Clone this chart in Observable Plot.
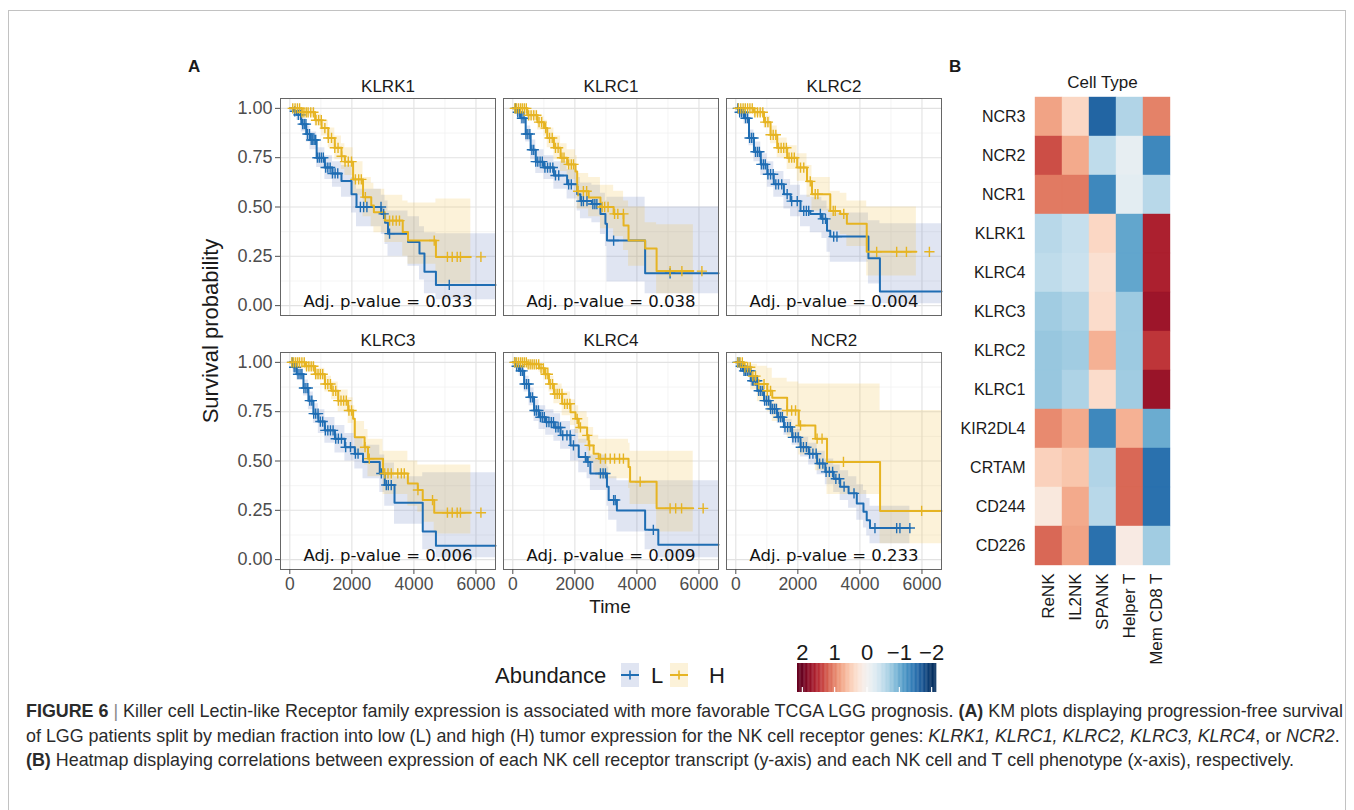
<!DOCTYPE html>
<html><head><meta charset="utf-8">
<script src="https://cdn.jsdelivr.net/npm/d3@7"></script>
<script src="https://cdn.jsdelivr.net/npm/@observablehq/plot@0.6"></script>
<style>
html,body{margin:0;padding:0;background:#fff;}
body{width:1354px;height:810px;overflow:hidden;position:relative;font-family:"Liberation Sans",Arial,sans-serif;color:#1a1a1a;}
.abs{position:absolute;}
#frame{left:8px;top:10px;width:1338px;height:830px;border:1.5px solid #c2c2c2;box-sizing:border-box;}
.plab{font-weight:bold;font-size:17px;}
.cap{position:absolute;left:26px;white-space:nowrap;font-family:"Liberation Sans Narrow","Liberation Sans",Arial,sans-serif;font-size:19px;color:#2b2b2b;transform-origin:0 0;display:inline-block;line-height:22px;}
.cap b{font-weight:bold;}
.leg{font-size:22px;line-height:26px;}
svg{display:block;}
</style></head><body>
<div id="frame" class="abs"></div>
<div class="abs plab" style="left:188px;top:57px;">A</div>
<div class="abs plab" style="left:949px;top:57px;">B</div>
<div class="abs" id="km" style="left:180px;top:60px;"></div>
<div class="abs" id="hm" style="left:940px;top:60px;"></div>
<div class="abs" id="ramp" style="left:780px;top:630px;"></div>
<div class="abs" style="left:211px;top:331px;transform:translate(-50%,-50%) rotate(-90deg);font-size:22px;white-space:nowrap;">Survival probability</div>
<div class="abs" style="left:610px;top:607px;transform:translate(-50%,-50%);font-size:19px;">Time</div>
<div class="abs leg" style="left:495px;top:663px;">Abundance</div>
<div class="abs" id="legL" style="left:621px;top:663px;"></div>
<div class="abs leg" style="left:651px;top:663px;">L</div>
<div class="abs" id="legH" style="left:670px;top:663px;"></div>
<div class="abs leg" style="left:709px;top:663px;">H</div>
<div class="cap" id="c1" style="top:700px;"><b>FIGURE 6</b> <span style="color:#888">|</span> Killer cell Lectin-like Receptor family expression is associated with more favorable TCGA LGG prognosis. <b>(A)</b> KM plots displaying progression-free survival</div>
<div class="cap" id="c2" style="top:725px;">of LGG patients split by median fraction into low (L) and high (H) tumor expression for the NK cell receptor genes: <i>KLRK1, KLRC1, KLRC2, KLRC3, KLRC4</i>, or <i>NCR2</i>.</div>
<div class="cap" id="c3" style="top:749px;"><b>(B)</b> Heatmap displaying correlations between expression of each NK cell receptor transcript (y-axis) and each NK cell and T cell phenotype (x-axis), respectively.</div>
<script>
// ---------------- Panel A data ----------------
const genes = ["KLRK1","KLRC1","KLRC2","KLRC3","KLRC4","NCR2"];
const pvalues = ["0.033","0.038","0.004","0.006","0.009","0.233"];
const groups = ["L","H"];
const groupColors = ["#1f6db3","#e6b422"];
const xTicks = [0,2000,4000,6000];
const xMinor = [1000,3000,5000];
const yTicks = [0,0.25,0.5,0.75,1];
const yMinor = [0.125,0.375,0.625,0.875];

// each point: [time, survival, lower CI, upper CI]
const KLRK1_L = [[0,1,1,1],[105,0.985,0.97,1],[225,0.967,0.94,0.99],[370,0.92,0.88,0.95],[530,0.87,0.83,0.91],[650,0.84,0.79,0.88],[865,0.75,0.70,0.80],[1130,0.70,0.64,0.76],[1375,0.67,0.60,0.73],[1665,0.632,0.55,0.71],[1990,0.565,0.47,0.65],[2150,0.50,0.40,0.59],[2950,0.465,0.36,0.56],[3070,0.42,0.31,0.53],[3165,0.365,0.25,0.48],[3810,0.323,0.20,0.45],[4180,0.264,0.13,0.40],[4340,0.172,0.06,0.37],[4710,0.105,0.03,0.365],[6630,0.105,0.03,0.365]];
const KLRK1_H = [[0,1,1,1],[385,0.98,0.96,1],[815,0.94,0.91,0.97],[1025,0.90,0.86,0.94],[1240,0.85,0.80,0.90],[1450,0.80,0.74,0.86],[1665,0.757,0.69,0.82],[1775,0.73,0.66,0.80],[2040,0.64,0.56,0.73],[2360,0.55,0.45,0.65],[2625,0.507,0.40,0.62],[2710,0.473,0.37,0.59],[3060,0.431,0.32,0.56],[3640,0.373,0.25,0.53],[3810,0.33,0.21,0.52],[4710,0.247,0.11,0.54],[5835,0.247,0.11,0.54]];
const KLRK1_L_cens = [160,275,350,415,465,520,570,635,690,740,785,835,890,950,1015,1080,1155,1225,1300,1375,1460,1545,2275,2380,2485,2940,3025,3215,5140];
const KLRK1_H_cens = [95,170,245,315,390,455,530,590,675,760,845,930,1015,1130,1240,1345,1450,1555,1670,1780,1885,1990,2115,2220,2305,2435,3215,3320,3430,3535,4655,5080,5235,5395,5500,6160];

const KLRC1_L = [[0,1,1,1],[125,0.98,0.96,1],[255,0.95,0.92,0.98],[415,0.87,0.83,0.91],[575,0.79,0.74,0.84],[740,0.73,0.67,0.79],[1005,0.70,0.64,0.76],[1325,0.66,0.59,0.73],[1750,0.615,0.54,0.69],[2075,0.565,0.48,0.65],[2180,0.53,0.44,0.62],[2550,0.515,0.42,0.61],[2825,0.465,0.36,0.57],[2985,0.415,0.30,0.53],[3035,0.33,0.12,0.55],[4265,0.164,0.06,0.50],[6630,0.164,0.06,0.50]];
const KLRC1_H = [[0,1,1,1],[470,0.965,0.94,0.99],[795,0.93,0.89,0.96],[1005,0.90,0.86,0.94],[1110,0.85,0.80,0.90],[1325,0.80,0.74,0.86],[1540,0.75,0.68,0.82],[1750,0.716,0.64,0.79],[2020,0.68,0.60,0.76],[2075,0.58,0.49,0.67],[2445,0.548,0.45,0.65],[2825,0.50,0.39,0.61],[3250,0.465,0.35,0.58],[3570,0.406,0.28,0.53],[3730,0.33,0.20,0.50],[4265,0.29,0.16,0.42],[4635,0.175,0.06,0.41],[5820,0.175,0.06,0.41]];
const KLRC1_L_cens = [85,160,220,295,360,425,485,550,615,675,740,805,880,950,1035,1120,1205,1290,1375,1480,1800,1885,2210,2275,2390,2580,2645,2710,3250,5070];
const KLRC1_H_cens = [65,115,180,245,305,370,435,510,590,675,760,845,930,1060,1185,1270,1375,1460,1585,1650,1800,1885,1955,2105,2275,2380,2880,2960,3070,3280,3385,3565,5070,5450,6095];

const KLRC2_L = [[0,1,1,1],[105,0.98,0.96,1],[265,0.95,0.92,0.98],[425,0.85,0.81,0.89],[585,0.78,0.73,0.83],[805,0.716,0.66,0.77],[1015,0.666,0.60,0.73],[1225,0.615,0.55,0.68],[1550,0.565,0.49,0.64],[1765,0.53,0.45,0.61],[2085,0.48,0.40,0.56],[2400,0.465,0.37,0.55],[2775,0.44,0.34,0.53],[2940,0.38,0.27,0.49],[3045,0.35,0.22,0.47],[4275,0.24,0.11,0.43],[4645,0.072,0.01,0.415],[6630,0.072,0.01,0.415]];
const KLRC2_H = [[0,1,1,1],[585,0.98,0.96,1],[910,0.93,0.90,0.96],[1120,0.866,0.82,0.91],[1335,0.80,0.75,0.85],[1655,0.75,0.69,0.81],[1980,0.70,0.63,0.77],[2295,0.63,0.55,0.71],[2455,0.565,0.48,0.65],[3045,0.48,0.38,0.58],[3365,0.465,0.36,0.57],[3580,0.415,0.30,0.53],[4220,0.273,0.15,0.50],[5820,0.273,0.15,0.50]];
const KLRC2_L_cens = [65,125,190,255,315,380,445,510,570,635,700,760,825,890,950,1035,1120,1205,1290,1375,1480,1655,1800,1980,2190,2275,2350,2725,2805,2890,3155,3260];
const KLRC2_H_cens = [85,160,235,305,380,455,530,615,700,785,870,950,1035,1120,1205,1290,1375,1460,1545,1630,1715,1800,1885,2085,2190,2400,2560,2645,3140,3205,3480,4540,5185,5500,6240];

const KLRC3_L = [[0,1,1,1],[105,0.975,0.95,1],[225,0.94,0.91,0.97],[440,0.87,0.83,0.91],[600,0.806,0.76,0.85],[760,0.74,0.69,0.79],[920,0.70,0.64,0.76],[1130,0.655,0.59,0.72],[1455,0.613,0.54,0.68],[1775,0.57,0.50,0.64],[2095,0.537,0.46,0.62],[2360,0.495,0.41,0.58],[2900,0.437,0.34,0.53],[3060,0.378,0.27,0.49],[3375,0.289,0.18,0.42],[4285,0.143,0.05,0.44],[4710,0.07,0.01,0.44],[6630,0.07,0.01,0.44]];
const KLRC3_H = [[0,1,1,1],[490,0.98,0.96,1],[815,0.94,0.91,0.97],[1130,0.89,0.85,0.93],[1345,0.856,0.81,0.90],[1560,0.806,0.75,0.86],[1880,0.756,0.69,0.82],[2040,0.714,0.64,0.78],[2095,0.62,0.54,0.70],[2410,0.57,0.48,0.66],[2520,0.512,0.42,0.61],[3005,0.437,0.33,0.55],[3805,0.386,0.27,0.50],[4125,0.353,0.24,0.48],[4285,0.302,0.19,0.48],[4655,0.238,0.13,0.48],[5835,0.238,0.13,0.48]];
const KLRC3_L_cens = [75,140,200,265,330,390,455,520,580,645,710,770,835,910,985,1060,1145,1225,1310,1395,1480,1565,1665,1800,1955,2115,2200,2950,3110,3175,3270];
const KLRC3_H_cens = [65,125,190,255,315,390,465,540,615,690,760,835,910,985,1060,1145,1225,1310,1395,1480,1565,1650,1735,1820,1905,1990,2425,2560,3060,3165,3270,3480,3595,3690,4130,4600,5080,5235,5395,5500,6160];

const KLRC4_L = [[0,1,1,1],[105,0.98,0.96,1],[205,0.957,0.93,0.98],[365,0.89,0.85,0.93],[525,0.823,0.78,0.87],[685,0.756,0.70,0.81],[845,0.722,0.66,0.78],[1060,0.697,0.63,0.76],[1325,0.67,0.60,0.74],[1540,0.63,0.56,0.70],[1860,0.579,0.50,0.66],[2125,0.52,0.44,0.61],[2395,0.495,0.41,0.58],[2500,0.437,0.35,0.53],[3035,0.37,0.27,0.47],[3090,0.302,0.20,0.42],[3355,0.249,0.14,0.40],[4265,0.151,0.05,0.40],[4690,0.076,0.01,0.40],[6630,0.076,0.01,0.40]];
const KLRC4_H = [[0,1,1,1],[470,0.99,0.97,1],[845,0.97,0.95,0.99],[1005,0.94,0.91,0.97],[1165,0.89,0.85,0.93],[1325,0.84,0.79,0.89],[1590,0.79,0.73,0.85],[1860,0.747,0.68,0.81],[2020,0.714,0.64,0.78],[2125,0.67,0.59,0.75],[2395,0.63,0.55,0.72],[2445,0.579,0.49,0.67],[2605,0.537,0.44,0.63],[2770,0.512,0.41,0.61],[3730,0.47,0.36,0.59],[3780,0.395,0.28,0.55],[4635,0.26,0.14,0.55],[5815,0.26,0.14,0.55]];
const KLRC4_L_cens = [65,125,190,255,315,380,445,510,570,635,700,760,825,890,950,1015,1090,1165,1240,1310,1385,1460,1535,1610,1745,1850,1955,2340,2425,2825,2910,2985,3250,3300,4530];
const KLRC4_H_cens = [55,115,180,245,305,370,435,495,560,625,690,760,835,910,985,1060,1130,1205,1280,1355,1430,1500,1585,1670,1755,1840,2075,2180,2400,2475,2825,2985,3140,3280,3440,3565,4105,5070,5250,5440,6135];

const NCR2_L = [[0,1,1,1],[125,0.98,0.97,0.99],[265,0.957,0.94,0.97],[480,0.907,0.88,0.93],[695,0.856,0.83,0.88],[910,0.806,0.78,0.83],[1120,0.764,0.73,0.79],[1335,0.722,0.69,0.76],[1550,0.672,0.63,0.71],[1815,0.62,0.58,0.66],[2085,0.57,0.52,0.62],[2350,0.537,0.48,0.59],[2620,0.487,0.43,0.55],[2885,0.445,0.38,0.51],[3155,0.41,0.34,0.48],[3365,0.37,0.30,0.45],[3635,0.336,0.26,0.42],[3900,0.285,0.20,0.38],[4115,0.243,0.16,0.35],[4220,0.20,0.12,0.31],[4325,0.16,0.08,0.27],[5610,0.16,0.08,0.27]];
const NCR2_H = [[0,1,1,1],[265,0.975,0.93,1],[480,0.93,0.86,0.99],[695,0.89,0.80,0.98],[1015,0.856,0.75,0.97],[1175,0.82,0.70,0.92],[1655,0.756,0.62,0.90],[2030,0.68,0.53,0.89],[2565,0.613,0.45,0.89],[2940,0.495,0.33,0.89],[4650,0.247,0.08,0.756],[6630,0.247,0.08,0.756]];
const NCR2_L_cens = [55,105,160,210,265,315,370,425,475,530,580,635,690,740,805,870,930,995,1060,1120,1185,1250,1310,1375,1440,1500,1585,1670,1755,1840,1925,2010,2095,2180,2275,2380,2485,2590,2700,2805,2910,3015,3120,3225,3335,3490,3810,4485,5185,5290,5610];
const NCR2_H_cens = [65,140,210,295,380,465,550,635,740,910,1015,1120,1655,1800,1925,2085,2620,2780,3470,5990];

// ---------------- Panel B data ----------------
const cellTypes = ["ReNK","IL2NK","SPANK","Helper T","Mem CD8 T"];
const heatGenes = ["NCR3","NCR2","NCR1","KLRK1","KLRC4","KLRC3","KLRC2","KLRC1","KIR2DL4","CRTAM","CD244","CD226"];
const heatValues = [
  [0.8, 0.4, -1.6, -0.6, 1.0],
  [1.3, 0.75, -0.5, -0.15, -1.3],
  [1.05, 1.05, -1.3, -0.2, -0.55],
  [-0.55, -0.45, 0.4, -1.05, 1.6],
  [-0.5, -0.42, 0.3, -1.05, 1.6],
  [-0.7, -0.62, 0.35, -0.72, 1.7],
  [-0.75, -0.7, 0.7, -0.72, 1.45],
  [-0.75, -0.62, 0.35, -0.7, 1.72],
  [0.95, 0.75, -1.3, 0.7, -1.0],
  [0.45, 0.55, -0.6, 1.15, -1.5],
  [0.2, 0.75, -0.55, 1.15, -1.5],
  [1.15, 0.8, -1.5, 0.15, -0.7]
];
const rampTicks = [2,1,0,-1,-2];

// ---------------- build tables ----------------
const KMs = {KLRK1:[KLRK1_L,KLRK1_H], KLRC1:[KLRC1_L,KLRC1_H], KLRC2:[KLRC2_L,KLRC2_H], KLRC3:[KLRC3_L,KLRC3_H], KLRC4:[KLRC4_L,KLRC4_H], NCR2:[NCR2_L,NCR2_H]};
const CENS = {KLRK1:[KLRK1_L_cens,KLRK1_H_cens], KLRC1:[KLRC1_L_cens,KLRC1_H_cens], KLRC2:[KLRC2_L_cens,KLRC2_H_cens], KLRC3:[KLRC3_L_cens,KLRC3_H_cens], KLRC4:[KLRC4_L_cens,KLRC4_H_cens], NCR2:[NCR2_L_cens,NCR2_H_cens]};
const kmRows = [], censRows = [];
const facets = genes.map((g,i)=>({gene:g, p:"Adj. p-value = "+pvalues[i], fx:i%3, fy:Math.floor(i/3)}));
facets.forEach(({gene,fx,fy})=>{
  groups.forEach((grp,j)=>{
    const c = KMs[gene][j];
    c.forEach(([t,s,lo,hi])=>kmRows.push({gene,group:grp,fx,fy,t,s,lo,hi}));
    CENS[gene][j].forEach(t=>{
      let s = 1;
      for (const p of c) { if (p[0] <= t) s = p[1]; else break; }
      censRows.push({gene,group:grp,fx,fy,t,s});
    });
  });
});
const heatRows = [];
heatGenes.forEach((g,i)=>cellTypes.forEach((c,j)=>heatRows.push({gene:g,type:c,value:heatValues[i][j]})));

const fontMain = "'Liberation Sans', Arial, sans-serif";

const km = Plot.plot({
  width:780, height:575, marginLeft:99, marginRight:18, marginTop:37, marginBottom:65,
  style:{fontFamily:fontMain, fontSize:"16px", color:"#1a1a1a", background:"transparent"},
  fx:{domain:[0,1,2], paddingInner:0.034, paddingOuter:0, axis:null},
  fy:{domain:[0,1], paddingInner:0.145, paddingOuter:0, axis:null},
  x:{domain:[-300,6630]},
  y:{domain:[-0.05,1.05]},
  color:{domain:groups, range:groupColors},
  marks:[
    Plot.gridX({ticks:xMinor, stroke:"#f1f1f1", strokeOpacity:1, strokeWidth:0.8}),
    Plot.gridY({ticks:yMinor, stroke:"#f1f1f1", strokeOpacity:1, strokeWidth:0.8}),
    Plot.gridX({ticks:xTicks, stroke:"#e2e2e2", strokeOpacity:1, strokeWidth:1.1}),
    Plot.gridY({ticks:yTicks, stroke:"#e2e2e2", strokeOpacity:1, strokeWidth:1.1}),
    Plot.areaY(kmRows.filter(d=>d.group==="L"), {x:"t", y1:"lo", y2:"hi", fx:"fx", fy:"fy", curve:"step-after", fill:"#3d5fb0", fillOpacity:0.16}),
    Plot.areaY(kmRows.filter(d=>d.group==="H"), {x:"t", y1:"lo", y2:"hi", fx:"fx", fy:"fy", curve:"step-after", fill:"#f0c040", fillOpacity:0.2}),
    Plot.line(kmRows, {x:"t", y:"s", z:"group", stroke:"group", fx:"fx", fy:"fy", curve:"step-after", strokeWidth:2}),
    Plot.dot(censRows, {x:"t", y:"s", stroke:"group", fx:"fx", fy:"fy", symbol:"plus", r:3.4, strokeWidth:1.4}),
    Plot.text(facets, {fx:"fx", fy:"fy", text:"p", frameAnchor:"bottom", lineAnchor:"middle", dy:-14, fontSize:16.5, fontFamily:"'DejaVu Sans', Verdana, sans-serif", fill:"#111"}),
    Plot.text(facets, {fx:"fx", fy:"fy", text:"gene", frameAnchor:"top", lineAnchor:"middle", dy:-12, fontSize:17, fill:"#1a1a1a"}),
    Plot.frame({stroke:"#666", strokeWidth:1}),
    Plot.axisX({ticks:xTicks, tickFormat:d=>String(d), tickSize:5, tickPadding:3, fontSize:17.5, color:"#4d4d4d", label:null}),
    Plot.axisY({ticks:yTicks, tickFormat:d=>d.toFixed(2), tickSize:5, tickPadding:3, fontSize:18, color:"#4d4d4d", label:null})
  ]
});
document.getElementById("km").append(km);

// red for positive, blue for negative
const colorSpec = {type:"linear", domain:[-2,2], interpolate:t=>d3.interpolateRdBu(1-t)};
const hm = Plot.plot({
  width:240, height:620, marginLeft:94, marginRight:10, marginTop:35, marginBottom:113,
  style:{fontFamily:fontMain, fontSize:"16px", color:"#1a1a1a", background:"transparent"},
  x:{domain:cellTypes, padding:0},
  y:{domain:heatGenes, padding:0},
  color:colorSpec,
  marks:[
    Plot.cell(heatRows, {x:"type", y:"gene", fill:"value", stroke:"value", strokeWidth:0.4}),
    Plot.axisY({tickSize:0, tickPadding:9, fontSize:16, label:null}),
    Plot.axisX({tickSize:0, tickPadding:6, tickRotate:-90, fontSize:17, label:null}),
    Plot.text(["Cell Type"], {text:d=>d, frameAnchor:"top", lineAnchor:"middle", dy:-13, fontSize:17})
  ]
});
document.getElementById("hm").append(hm);

const rampStops = d3.range(2.15, -2.15, -0.025);
const ramp = Plot.plot({
  width:175, height:70, marginLeft:17, marginRight:19, marginTop:33, marginBottom:8,
  style:{fontFamily:fontMain, fontSize:"22px", color:"#1a1a1a", background:"transparent"},
  x:{domain:[2.15,-2.15]},
  color:colorSpec,
  marks:[
    Plot.barX(rampStops, {x1:d=>d, x2:d=>d-0.035, fill:d=>d}),
    Plot.tickX(rampTicks, {x:d=>d, stroke:"white", strokeWidth:1.2, insetTop:24}),
    Plot.axisX({anchor:"top", ticks:rampTicks, tickSize:0, tickPadding:4, fontSize:22, color:"#1a1a1a", label:null, tickFormat:d=>d<0?"\u2212"+(-d):String(d)})
  ]
});
document.getElementById("ramp").append(ramp);

// legend keys
function key(fill, op, col){
  return `<svg width="18" height="24"><rect x="0" y="0" width="18" height="24" fill="${fill}" fill-opacity="${op}"/><line x1="0" x2="18" y1="12" y2="12" stroke="${col}" stroke-width="2"/><line x1="9" x2="9" y1="7.5" y2="16.5" stroke="${col}" stroke-width="1.6"/></svg>`;
}
document.getElementById("legL").innerHTML = key("#3d5fb0",0.16,groupColors[0]);
document.getElementById("legH").innerHTML = key("#f0c040",0.2,groupColors[1]);

// caption fit
const c1 = document.getElementById("c1");
const sc = 1317 / c1.getBoundingClientRect().width;
document.querySelectorAll(".cap").forEach(e=>{e.style.transform=`scaleX(${sc})`;});
</script>
</body></html>
